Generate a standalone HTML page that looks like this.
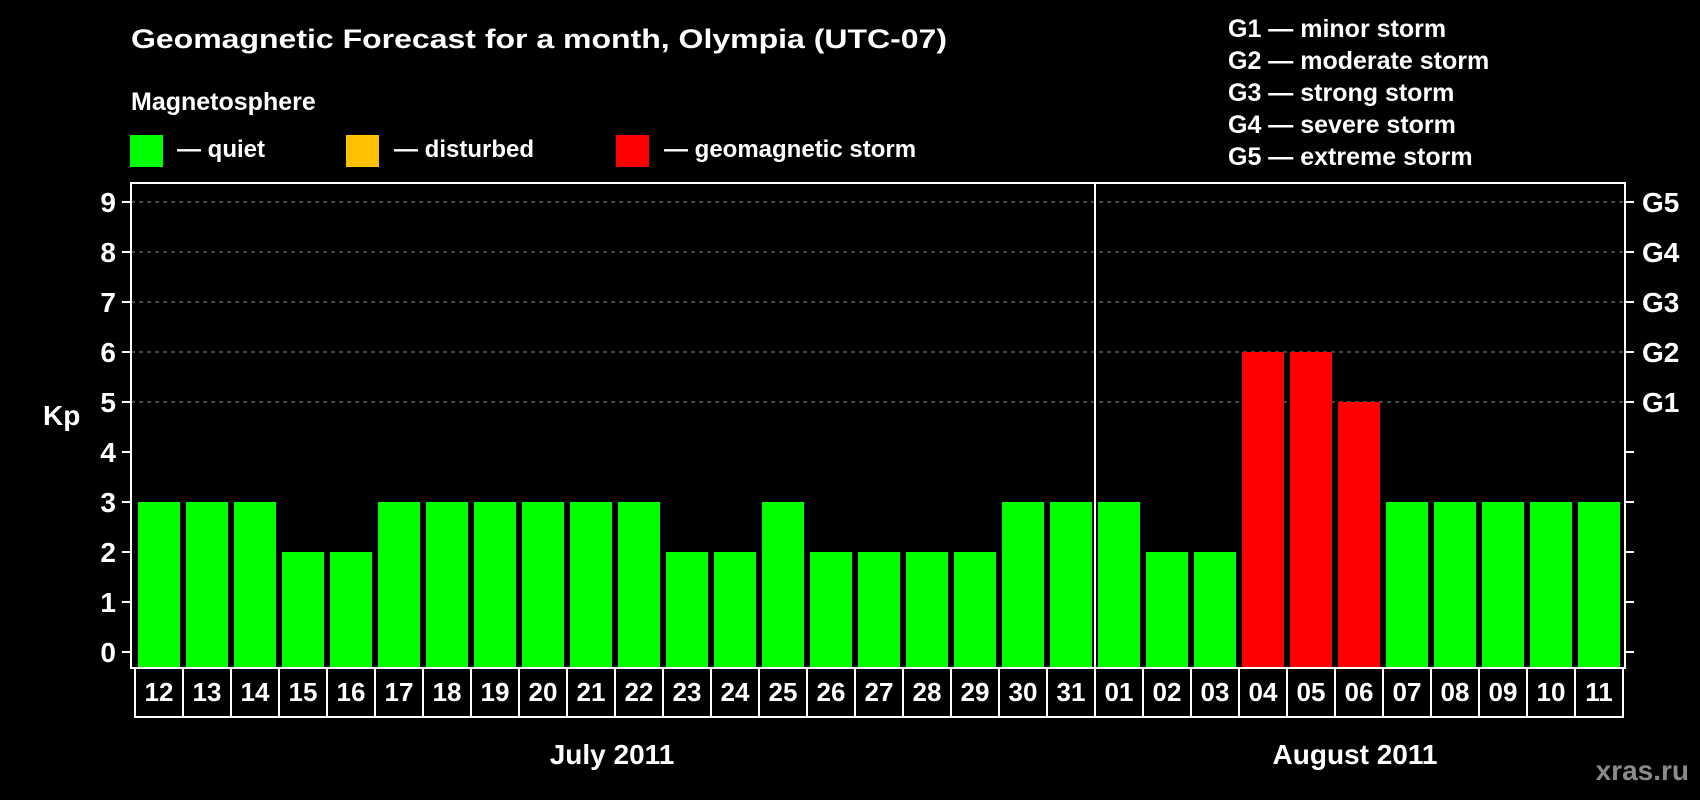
<!DOCTYPE html>
<html><head><meta charset="utf-8"><style>
html,body{margin:0;padding:0;background:#000;}
svg{display:block;font-family:"Liberation Sans",Arial,sans-serif;font-weight:bold;}
</style></head><body>
<svg id="chart" width="1700" height="800" viewBox="0 0 1700 800">
<rect width="1700" height="800" fill="#000"/>
<text x="131" y="48" fill="#fff" font-size="27" textLength="816" lengthAdjust="spacingAndGlyphs">Geomagnetic Forecast for a month, Olympia (UTC-07)</text>
<text x="131" y="110" fill="#fff" font-size="25">Magnetosphere</text>
<g>
<rect x="130" y="135" width="33" height="32" fill="#00ff00"/>
<text x="177" y="157" fill="#fff" font-size="24">— quiet</text></g>
<g>
<rect x="346" y="135" width="33" height="32" fill="#ffc000"/>
<text x="394" y="157" fill="#fff" font-size="24">— disturbed</text></g>
<g>
<rect x="616" y="135" width="33" height="32" fill="#ff0000"/>
<text x="664" y="157" fill="#fff" font-size="24">— geomagnetic storm</text></g>
<g fill="#fff" font-size="25">
<text x="1228" y="37">G1 — minor storm</text>
<text x="1228" y="69">G2 — moderate storm</text>
<text x="1228" y="101">G3 — strong storm</text>
<text x="1228" y="133">G4 — severe storm</text>
<text x="1228" y="165">G5 — extreme storm</text>
</g>
<text x="43" y="425" fill="#fff" font-size="28">Kp</text>
<text x="612" y="764" fill="#fff" font-size="28" text-anchor="middle">July 2011</text>
<text x="1355" y="764" fill="#fff" font-size="28" text-anchor="middle">August 2011</text>
<text x="1689" y="780" fill="#8a8a8a" font-size="28" text-anchor="end">xras.ru</text>
<g id="plot"></g>
</svg>
<script>
const days = ["12","13","14","15","16","17","18","19","20","21","22","23","24","25","26","27","28","29","30","31","01","02","03","04","05","06","07","08","09","10","11"];
const kpValues = [3,3,3,2,2,3,3,3,3,3,3,2,2,3,2,2,2,2,3,3,3,2,2,6,6,5,3,3,3,3,3];
const yTicks = [0,1,2,3,4,5,6,7,8,9];
const gLabels = ["G1","G2","G3","G4","G5"];
const gLevels = [5,6,7,8,9];
const monthSplitIndex = 20;

const NS="http://www.w3.org/2000/svg";
const plotG=document.getElementById('plot');
const pLeft=131,pRight=1625,pTop=183,pBottom=668;
const yScale=v=>652-50*v;
const barX0=138,pitch=48,bw=42;
const xScale=i=>barX0+i*pitch;
function mk(tag,attrs){const e=document.createElementNS(NS,tag);for(const k in attrs)e.setAttribute(k,attrs[k]);plotG.appendChild(e);return e;}
function barColor(v){return v>=5?"#ff0000":(v>=4?"#ffc000":"#00ff00");}

gLevels.forEach(v=>{
  const l=mk('line',{x1:pLeft,x2:pRight,y1:yScale(v),y2:yScale(v),stroke:'#888','stroke-width':1,'stroke-dasharray':'4,4'});
  
  
});
kpValues.forEach((v,i)=>{
  const r=mk('rect',{x:xScale(i),y:yScale(v),width:bw,height:pBottom-yScale(v),fill:barColor(v)});
  
  
});
const frame=mk('rect',{x:pLeft,y:pTop,width:pRight-pLeft,height:pBottom-pTop,fill:'none',stroke:'#fff','stroke-width':2});


const sx=(xScale(monthSplitIndex-1)+bw+xScale(monthSplitIndex))/2;
const div=mk('line',{x1:sx,x2:sx,y1:pTop,y2:pBottom,stroke:'#fff','stroke-width':2});


yTicks.forEach(v=>{
  const t=mk('line',{x1:pLeft-9,x2:pLeft,y1:yScale(v),y2:yScale(v),stroke:'#fff','stroke-width':2});
  
  
  const t2=mk('line',{x1:pRight,x2:pRight+9,y1:yScale(v),y2:yScale(v),stroke:'#fff','stroke-width':2});
  
  
  const tx=mk('text',{x:116,y:yScale(v)+10,fill:'#fff','font-size':28,'text-anchor':'end'});
  tx.textContent=v;
  
  
});
gLevels.forEach((v,i)=>{
  const tx=mk('text',{x:1642,y:yScale(v)+10,fill:'#fff','font-size':28});
  tx.textContent=gLabels[i];
  
  
});
const bl=135,br=xScale(days.length-1)+bw+3;
const box=mk('rect',{x:bl,y:pBottom,width:br-bl,height:717-pBottom,fill:'none',stroke:'#fff','stroke-width':2});


days.forEach((d,i)=>{
  if(i>0){
    const bx=xScale(i)-3;
    const l=mk('line',{x1:bx,x2:bx,y1:pBottom,y2:717,stroke:'#fff','stroke-width':2});
    
    
  }
  const tx=mk('text',{x:xScale(i)+bw/2,y:701,fill:'#fff','font-size':26,'text-anchor':'middle'});
  tx.textContent=d;
  
  
});
</script>
</body></html>
